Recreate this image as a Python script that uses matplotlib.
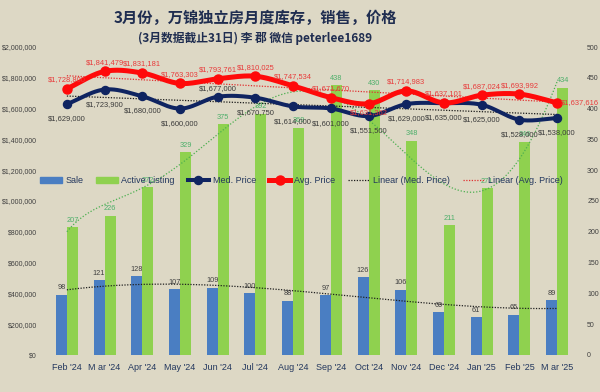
import numpy as np
import matplotlib
matplotlib.use("Agg")
import matplotlib.pyplot as plt
from matplotlib.patches import Patch
from matplotlib.lines import Line2D
from matplotlib.ticker import FuncFormatter, MultipleLocator

plt.rcParams['font.family'] = ['Liberation Sans', 'DejaVu Sans']

months = ["Feb '24", "M ar '24", "Apr '24", "May '24", "Jun '24", "Jul '24", "Aug '24",
          "Sep '24", "Oct '24", "Nov '24", "Dec '24", "Jan '25", "Feb '25", "M ar '25"]
sales = [98, 121, 128, 107, 109, 100, 88, 97, 126, 106, 69, 61, 65, 89]
active = [207, 226, 272, 329, 375, 392, 369, 438, 430, 348, 211, 271, 346, 434]
med_price = [1629000, 1723900, 1680000, 1600000, 1677000, 1670750, 1614000,
             1601000, 1551500, 1629000, 1635000, 1625000, 1528000, 1538000]
avg_price = [1728800, 1841479, 1831181, 1763303, 1793761, 1810025, 1747534,
             1671670, 1631362, 1714983, 1637101, 1687024, 1693992, 1637616]

title = "3月份，万锦独立房月度库存，销售，价格"
subtitle = "(3月数据截止31日) 李 郡 微信 peterlee1689"

BG = "#DDD8C5"
BLUE = "#4A7EC2"
GREEN = "#8FD14F"
NAVY = "#0F2461"
RED = "#FF0A0A"
TXT = "#404040"
GTXT = "#4DAF6A"


def smooth(x, y, n=24):
    pts = np.column_stack([x, y]).astype(float)
    P = np.vstack([2 * pts[0] - pts[1], pts, 2 * pts[-1] - pts[-2]])
    out = []
    t = np.linspace(0, 1, n, endpoint=False)[:, None]
    for i in range(1, len(P) - 2):
        p0, p1, p2, p3 = P[i - 1], P[i], P[i + 1], P[i + 2]
        seg = 0.5 * ((2 * p1) + (-p0 + p2) * t + (2 * p0 - 5 * p1 + 4 * p2 - p3) * t ** 2
                     + (-p0 + 3 * p1 - 3 * p2 + p3) * t ** 3)
        out.append(seg)
    out.append(pts[-1][None])
    s = np.vstack(out)
    return s[:, 0], s[:, 1]


fig = plt.figure(figsize=(6, 3.92), dpi=100, facecolor=BG)
ax = fig.add_axes([0.08, 0.0944, 0.88, 0.7857])
ax2 = ax.twinx()
ax.set_zorder(ax2.get_zorder() + 1)
ax.patch.set_visible(False)
ax2.set_facecolor(BG)

x = np.arange(len(months))
w = 0.29
ax2.bar(x - w / 2, sales, width=w, color=BLUE, zorder=2)
ax2.bar(x + w / 2, active, width=w, color=GREEN, zorder=2)

for xi, v in zip(x, sales):
    ax2.annotate(str(v), (xi - w / 2, v), xytext=(0, 2.5), textcoords="offset points",
                 ha="center", va="bottom", fontsize=5.3, color=TXT, zorder=3)
for xi, v in zip(x, active):
    ax2.annotate(str(v), (xi + w / 2, v), xytext=(0, 2.5), textcoords="offset points",
                 ha="center", va="bottom", fontsize=5.3, color=GTXT, zorder=3)

# trendlines
xf = np.linspace(0, len(x) - 1, 300)
ca = np.polyfit(x + 1, active, 6)
ax2.plot(xf, np.polyval(ca, xf + 1), ls=(0, (1, 1.5)), color="#4CAF50", lw=0.9, zorder=4)
cs = np.polyfit(x + 1, sales, 3)
ax2.plot(xf, np.polyval(cs, xf + 1), ls=(0, (1, 1.2)), color="#202020", lw=0.9, zorder=4)

cm = np.polyfit(x, med_price, 1)
ax.plot(xf, np.polyval(cm, xf), ls=(0, (1, 1.2)), color="#1a1a1a", lw=0.9, zorder=2)
cav = np.polyfit(x, avg_price, 1)
ax.plot(xf, np.polyval(cav, xf), ls=(0, (1, 1.2)), color="#E03030", lw=0.9, zorder=2)

sx, sy = smooth(x, med_price)
ax.plot(sx, sy, color=NAVY, lw=2.9, zorder=3, solid_capstyle="round")
ax.plot(x, med_price, "o", color=NAVY, ms=5.8, zorder=3)
sx, sy = smooth(x, avg_price)
ax.plot(sx, sy, color=RED, lw=3.6, zorder=4, solid_capstyle="round")
ax.plot(x, avg_price, "o", color=RED, ms=6.5, zorder=4)


def money(v, pos=None):
    return "${:,.0f}".format(v)


LFS = 5.4
for i, v in enumerate(med_price):
    dy = -8
    va = "top"
    if i == 4:
        dy, va = 3.5, "bottom"
    ax.annotate(money(v), (i, v), xytext=(0, dy), textcoords="offset points",
                ha="center", va=va, fontsize=LFS, color="#3a3a3a", zorder=5)
for i, v in enumerate(avg_price):
    if i == len(avg_price) - 1:
        ax.annotate(money(v), (i, v), xytext=(3, 0), textcoords="offset points",
                    ha="left", va="center", fontsize=LFS, color="#E83A3A", zorder=5)
    elif i == 8:
        ax.annotate(money(v), (i, v), xytext=(0, -4), textcoords="offset points",
                    ha="center", va="top", fontsize=LFS, color="#E83A3A", zorder=5)
    else:
        ax.annotate(money(v), (i, v), xytext=(0, 4), textcoords="offset points",
                    ha="center", va="bottom", fontsize=LFS, color="#E83A3A", zorder=5)

ax.set_xlim(-0.5, len(x) - 0.5)
ax.set_ylim(0, 2000000)
ax2.set_ylim(0, 500)
ax.yaxis.set_major_locator(MultipleLocator(200000))
ax.yaxis.set_major_formatter(FuncFormatter(money))
ax2.yaxis.set_major_locator(MultipleLocator(50))
ax.set_xticks(x)
ax.set_xticklabels(months, fontsize=6.5, color="#23375E")
for a in (ax, ax2):
    for s in a.spines.values():
        s.set_visible(False)
    a.tick_params(length=0)
ax.tick_params(axis="y", labelsize=5, labelcolor=TXT, pad=8)
ax.tick_params(axis="x", pad=6)
ax2.tick_params(axis="y", labelsize=5, labelcolor=TXT, pad=8)

handles = [Patch(color=BLUE), Patch(color=GREEN),
           Line2D([], [], color=NAVY, lw=2.9, marker="o", ms=5.8),
           Line2D([], [], color=RED, lw=3.6, marker="o", ms=6.5),
           Line2D([], [], color="#1a1a1a", lw=0.9, ls=(0, (1, 1.2))),
           Line2D([], [], color="#E03030", lw=0.9, ls=(0, (1, 1.2)))]
labels = ["Sale", "Active Listing", "Med. Price", "Avg. Price",
          "Linear (Med. Price)", "Linear (Avg. Price)"]
leg = ax.legend(handles, labels, loc="center", bbox_to_anchor=(0.48, 0.565), ncol=6,
                frameon=False, fontsize=6.5, columnspacing=1.4, handlelength=2.4,
                handletextpad=0.4)
for t in leg.get_texts():
    t.set_color("#23375E")
leg.set_zorder(10)

fig.text(0.425, 0.953, title, ha="center", va="center", fontsize=11, fontweight="bold",
         color="#1F2D50", family=["Noto Sans CJK SC", "DejaVu Sans"])
fig.text(0.425, 0.903, subtitle, ha="center", va="center", fontsize=8.5, fontweight="bold",
         color="#1F2D50", family=["Noto Sans CJK SC", "DejaVu Sans"])

fig.savefig("out.png", dpi=100, facecolor=BG)
